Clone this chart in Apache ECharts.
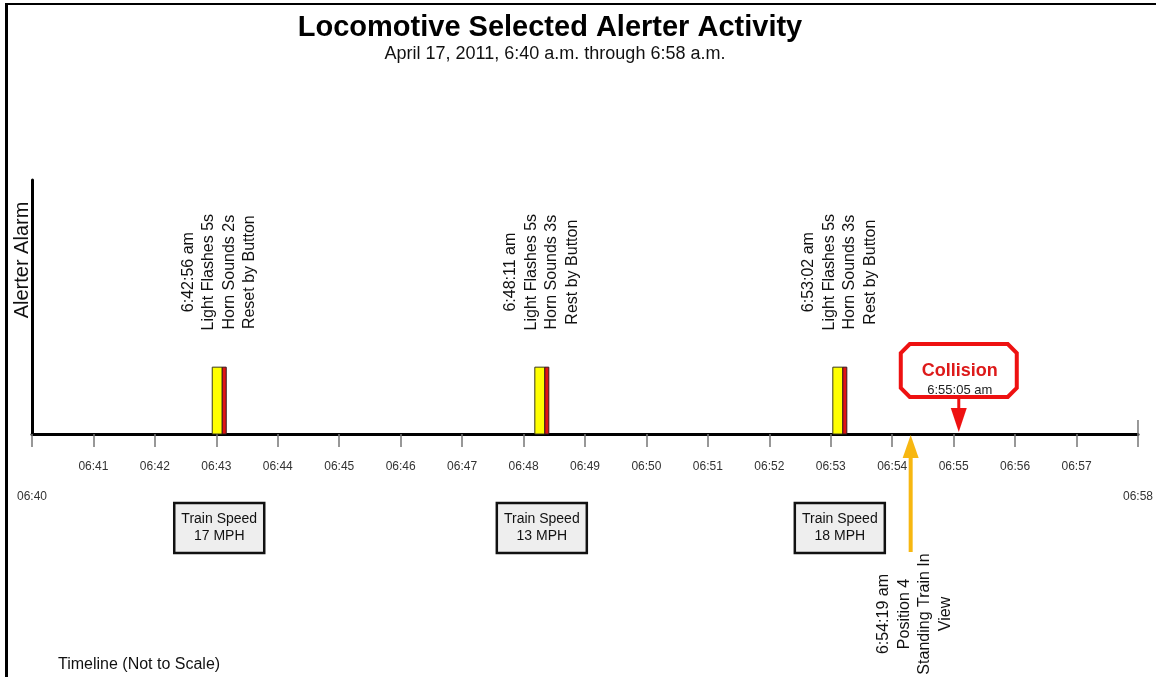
<!DOCTYPE html>
<html>
<head>
<meta charset="utf-8">
<style>
  html, body { margin: 0; padding: 0; background: #fff; }
  #main { width: 1156px; height: 677px; }
</style>
<script src="https://cdn.jsdelivr.net/npm/echarts/dist/echarts.min.js"></script>
</head>
<body>
<div id="main"></div>
<script>
// alerter events
const alertTimes = ['06:42:56', '06:48:11', '06:53:02'];
const lightSeconds = [5, 5, 5];
const hornSeconds = [2, 3, 3];
const resetNotes = ['Reset by Button', 'Rest by Button', 'Rest by Button'];
const alarmLevel = [1, 1, 1];
const trainSpeeds = [17, 13, 18];

// other marks on the timeline
const positionTime = '06:54:19';
const positionNotes = ['Position 4', 'Standing Train In', 'View'];
const collisionTime = '06:55:05';

const axisStart = '06:40:00';
const axisEnd = '06:58:00';

const FONT = '"Liberation Sans", Arial, sans-serif';

const toSec = s => {
  const p = s.split(':').map(Number);
  return p[0] * 3600 + p[1] * 60 + (p[2] || 0);
};
const pad = n => (n < 10 ? '0' : '') + n;
const hhmm = sec => pad(Math.floor(sec / 3600)) + ':' + pad(Math.floor(sec % 3600 / 60));
const am = s => s.replace(/^0/, '') + ' am';

const minSec = toSec(axisStart);
const maxSec = toSec(axisEnd);

const chart = echarts.init(document.getElementById('main'));

const option = {
  animation: false,
  backgroundColor: '#fff',
  title: [
    {
      text: 'Locomotive Selected Alerter Activity',
      left: 545, top: 8, textAlign: 'center',
      textStyle: { fontFamily: FONT, fontSize: 29, fontWeight: 'bold', color: '#000' }
    },
    {
      text: 'April 17, 2011, 6:40 a.m. through 6:58 a.m.',
      left: 550, top: 40, textAlign: 'center',
      textStyle: { fontFamily: FONT, fontSize: 18, fontWeight: 'normal', color: '#111' }
    }
  ],
  grid: { left: 32, right: 15, top: 180, bottom: 243 },
  xAxis: {
    type: 'value',
    min: minSec, max: maxSec, interval: 60,
    axisLine: { lineStyle: { color: '#000', width: 3 } },
    axisTick: { length: 13, lineStyle: { color: '#777', width: 1.5 } },
    splitLine: { show: false },
    axisLabel: {
      margin: 25,
      fontFamily: FONT, fontSize: 12, color: '#333', lineHeight: 15,
      showMinLabel: true, showMaxLabel: true,
      formatter: v => (v === minSec || v === maxSec ? '\n\n' : '') + hhmm(v)
    }
  },
  yAxis: {
    type: 'value', min: 0, max: 3.8,
    axisLine: { show: true, lineStyle: { color: '#000', width: 3 } },
    axisTick: { show: false },
    axisLabel: { show: false },
    splitLine: { show: false }
  },
  graphic: [
    { type: 'rect', shape: { x: 5, y: 3, width: 3, height: 674 }, style: { fill: '#000' } },
    { type: 'rect', shape: { x: 5, y: 3, width: 1151, height: 2 }, style: { fill: '#000' } },
    {
      type: 'text', x: 22, y: 260, rotation: Math.PI / 2,
      style: { text: 'Alerter Alarm', font: '20px ' + FONT, fill: '#111', align: 'center', verticalAlign: 'middle' }
    },
    {
      type: 'text', x: 58, y: 665,
      style: { text: 'Timeline (Not to Scale)', font: '16px ' + FONT, fill: '#111', align: 'left', verticalAlign: 'middle' }
    }
  ],
  series: [
    {
      type: 'custom',
      name: 'alerts',
      clip: false,
      data: alertTimes.map((t, i) => [toSec(t), alarmLevel[i]]),
      renderItem: (params, api) => {
        const i = params.dataIndex;
        const base = api.coord([api.value(0), 0]);
        const top = api.coord([api.value(0), api.value(1)]);
        const x = base[0];
        const h = base[1] - top[1];
        const cx = x + 7;
        const label = [am(alertTimes[i]), 'Light Flashes ' + lightSeconds[i] + 's',
          'Horn Sounds ' + hornSeconds[i] + 's', resetNotes[i]].join('\n');
        return {
          type: 'group',
          children: [
            { type: 'rect', shape: { x: x, y: top[1], width: 10, height: h },
              style: { fill: '#ffff00', stroke: '#3a3a1a', lineWidth: 1 } },
            { type: 'rect', shape: { x: x + 10, y: top[1], width: 4, height: h },
              style: { fill: '#e01414', stroke: '#3a1a1a', lineWidth: 1 } },
            { type: 'text', x: cx, y: top[1] - 95, rotation: Math.PI / 2,
              style: { text: label, font: '16px ' + FONT, lineHeight: 20.5, fill: '#111',
                align: 'center', verticalAlign: 'middle' } },
            { type: 'rect', shape: { x: cx - 45, y: base[1] + 69, width: 90, height: 50 },
              style: { fill: '#eeeeee', stroke: '#111', lineWidth: 2.5 } },
            { type: 'text', x: cx, y: base[1] + 94,
              style: { text: 'Train Speed\n' + trainSpeeds[i] + ' MPH', font: '14px ' + FONT,
                lineHeight: 17, fill: '#111', align: 'center', verticalAlign: 'middle' } }
          ]
        };
      }
    },
    {
      type: 'custom',
      name: 'position',
      clip: false,
      data: [[toSec(positionTime), 0]],
      renderItem: (params, api) => {
        const p = api.coord([api.value(0), api.value(1)]);
        const x = p[0] - 1, y = p[1];
        const col = '#f7b711';
        const label = [am(positionTime)].concat(positionNotes).join('\n');
        return {
          type: 'group',
          children: [
            { type: 'rect', shape: { x: x - 2, y: y + 20, width: 4, height: 98 }, style: { fill: col } },
            { type: 'polygon', shape: { points: [[x, y + 1], [x - 8, y + 24], [x + 8, y + 24]] }, style: { fill: col } },
            { type: 'text', x: x + 4, y: y + 180, rotation: Math.PI / 2,
              style: { text: label, font: '16px ' + FONT, lineHeight: 20.5, fill: '#111',
                align: 'center', verticalAlign: 'middle' } }
          ]
        };
      }
    },
    {
      type: 'custom',
      name: 'collision',
      clip: false,
      data: [[toSec(collisionTime), 0]],
      renderItem: (params, api) => {
        const p = api.coord([api.value(0), api.value(1)]);
        const x = p[0], y = p[1];
        const red = '#ee1111';
        const l = x - 58, r = x + 58, t = y - 90, b = y - 37, c = 9;
        return {
          type: 'group',
          children: [
            { type: 'rect', shape: { x: x - 1.5, y: b, width: 3, height: 14 }, style: { fill: red } },
            { type: 'polygon', shape: { points: [[x, y - 2], [x - 8, y - 26], [x + 8, y - 26]] }, style: { fill: red } },
            { type: 'polygon',
              shape: { points: [[l + c, t], [r - c, t], [r, t + c], [r, b - c], [r - c, b], [l + c, b], [l, b - c], [l, t + c]] },
              style: { fill: '#fff', stroke: red, lineWidth: 4 } },
            { type: 'text', x: x + 1, y: t + 27,
              style: { text: 'Collision', font: 'bold 18px ' + FONT, fill: '#dd1a1a', align: 'center', verticalAlign: 'middle' } },
            { type: 'text', x: x + 1, y: b - 7,
              style: { text: am(collisionTime), font: '13px ' + FONT, fill: '#222', align: 'center', verticalAlign: 'middle' } }
          ]
        };
      }
    },
    {
      type: 'custom',
      name: 'axisEnd',
      clip: false,
      data: [[maxSec, 0]],
      renderItem: (params, api) => {
        const p = api.coord([api.value(0), api.value(1)]);
        return { type: 'rect', shape: { x: p[0] - 0.75, y: p[1] - 14, width: 1.5, height: 14 }, style: { fill: '#777' } };
      }
    }
  ]
};

chart.setOption(option);
</script>
</body>
</html>
